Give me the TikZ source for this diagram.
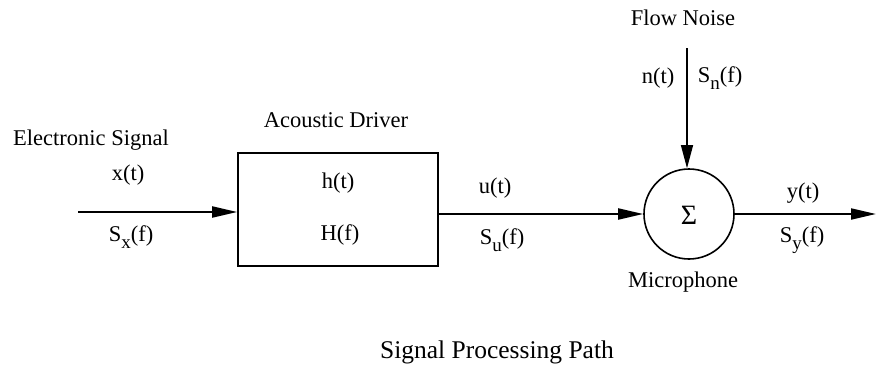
\documentclass[tikz,border=0pt]{standalone}
\usepackage{fontspec}
\setmainfont{Liberation Serif}
\usetikzlibrary{arrows.meta}
\newcommand{\sbx}[1]{\raisebox{-0.32em}{\fontsize{19}{19}\selectfont #1}}
\tikzset{
  lbl/.style={inner sep=0pt, font=\fontsize{22.5}{26}\selectfont},
  sig/.style={line width=2pt, -{Triangle[length=25pt,width=11pt]}},
  thinsig/.style={line width=1.2pt, -{Triangle[length=23pt,width=12pt]}},
  blk/.style={draw, line width=1.6pt, inner sep=0pt},
}
\begin{document}
\begin{tikzpicture}[x=1pt,y=-1pt]
\useasboundingbox (0,0) rectangle (876,383);
% blocks
\node[blk, minimum width=200pt, minimum height=113pt] (drv) at (338,209.5) {};
\node[blk, circle, minimum size=90pt] (mic) at (689,214) {};
\node[lbl, font=\fontsize{28}{30}\selectfont] (sigma) at (689,215) {Σ};
% coordinates
\coordinate (in) at (78,212);
\coordinate (out) at (876,214);
\coordinate (ntop) at (687,48);
% connectors
\draw[sig] (in) -- (in -| drv.west);
\draw[sig] (drv.east |- mic.west) -- (mic.west);
\draw[sig] (mic.east) -- (out);
\draw[thinsig] (ntop) -- (ntop |- mic.north);
% labels
\node[lbl] (es) at (91,140) {Electronic Signal};
\node[lbl] (xt) at (128,175) {x(t)};
\node[lbl] (sx) at (131,237) {S\sbx{x}(f)};
\node[lbl] (ad) at (336,120) {Acoustic Driver};
\node[lbl] (ht) at (338,183) {h(t)};
\node[lbl] (hf) at (340,235) {H(f)};
\node[lbl] (ut) at (495,188) {u(t)};
\node[lbl] (su) at (502,240) {S\sbx{u}(f)};
\node[lbl] (yt) at (803,193) {y(t)};
\node[lbl] (sy) at (802,240) {S\sbx{y}(f)};
\node[lbl] (mp) at (683,282) {Microphone};
\node[lbl] (fn) at (683,18) {Flow Noise};
\node[lbl] (nt) at (658,78) {n(t)};
\node[lbl] (sn) at (720,78) {S\sbx{n}(f)};
\node[lbl, font=\fontsize{25.5}{30}\selectfont] (title) at (497,352) {Signal Processing Path};
\end{tikzpicture}
\end{document}
